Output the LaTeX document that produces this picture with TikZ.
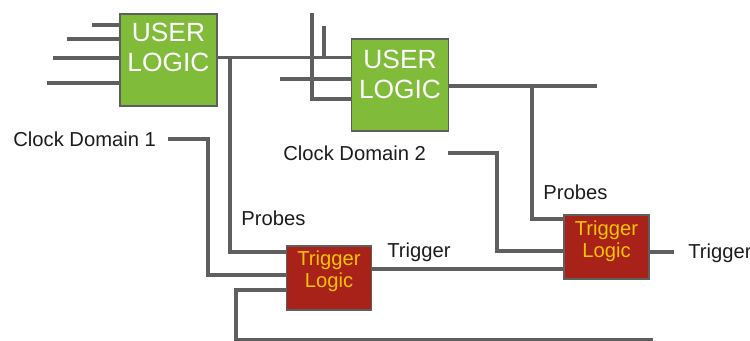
\documentclass[tikz,border=0pt]{standalone}
\usepackage{fontspec}
\setmainfont{Liberation Sans}
\usepackage{tikz}
\usetikzlibrary{positioning,calc}
\definecolor{wire}{HTML}{5F5F5F}
\definecolor{leaf}{HTML}{80BC3A}
\definecolor{brick}{HTML}{A8221A}
\definecolor{gold}{HTML}{F5C400}
\definecolor{ink}{HTML}{1C1C1C}

\begin{document}
\begin{tikzpicture}[x=0.02cm,y=-0.02cm]
    \tikzset{
      userbox/.style={draw=wire,line width=1pt,fill=leaf,minimum width=1.94cm,minimum height=1.84cm,inner sep=0pt},
      trigbox/.style={draw=wire,line width=1pt,fill=brick,minimum width=1.7cm,minimum height=1.28cm,inner sep=0pt},
      usertext/.style={text=white,align=center,inner sep=0pt,font=\fontsize{15}{17}\selectfont},
      trigtext/.style={text=gold,align=center,inner sep=0pt,font=\fontsize{11.5}{12.5}\selectfont},
      lbl/.style={text=ink,anchor=west,inner sep=0pt,font=\fontsize{11.5}{13}\selectfont},
      wireline/.style={draw=wire,line width=1.8pt}
    }
    \useasboundingbox (0,0) rectangle (750,341);
    \node[userbox] (ul1) at (168.5,60) {};
    \node[usertext] (ul1t) at (168.5,47) {USER\\LOGIC};
    \node[userbox] (ul2) at (400,85) {};
    \node[usertext] (ul2t) at (400,74) {USER\\LOGIC};
    \node[trigbox] (tl1) at (329,278) {};
    \node[trigtext] (tl1t) at (329,271) {Trigger\\Logic};
    \node[trigbox] (tl2) at (606.5,247) {};
    \node[trigtext] (tl2t) at (606.5,241) {Trigger\\Logic};
    \node[lbl] (cd1) at (13,139) {Clock Domain 1};
    \node[lbl] (cd2) at (283,153) {Clock Domain 2};
    \node[lbl] (pr1) at (241,218) {Probes};
    \node[lbl] (pr2) at (543,192) {Probes};
    \node[lbl] (tg1) at (387,252) {Trigger};
    \node[lbl] (tg2) at (688,253) {Trigger};
    \coordinate (in1) at (92,25);
    \coordinate (in2) at (67,39);
    \coordinate (in3) at (53,58);
    \coordinate (in4) at (47,83);
    \coordinate (in5) at (280,79);
    \coordinate (in6) at (312,13);
    \coordinate (in6k) at (312,99);
    \coordinate (in7) at (324,26);
    \coordinate (tap1) at (230,57.5);
    \coordinate (tap2) at (532,86);
    \coordinate (out2) at (597,86);
    \coordinate (cdk1) at (208,275);
    \coordinate (cdk2) at (497,251);
    \coordinate (pin1) at (0,252);
    \coordinate (pin2) at (0,290);
    \coordinate (pin4) at (0,219);
    \coordinate (trg) at (0,269);
    \coordinate (trgout) at (674,252);
    \coordinate (loopk) at (236,340);
    \coordinate (loopend) at (653,340);
    \foreach \p in {in1,in2,in3,in4}
      \draw[wireline] (\p) -- (\p -| ul1.west);
    \draw[wireline] (tap1 -| ul1.east) -- (tap1 -| ul2.west);
    \draw[wireline] (tap1) |- (tl1.west |- pin1);
    \draw[wireline] (in5) -- (in5 -| ul2.west);
    \draw[wireline] (in6) -- (in6k) -- (in6k -| ul2.west);
    \draw[wireline] (in7) -- (in7 |- tap1);
    \draw[wireline] (out2 -| ul2.east) -- (out2);
    \draw[wireline] (tap2) |- (tl2.west |- pin4);
    \draw[wireline] ([xshift=0.24cm]cd1.east) -| (cdk1) -- (cdk1 -| tl1.west);
    \draw[wireline] ([xshift=0.44cm]cd2.east) -| (cdk2) -- (cdk2 -| tl2.west);
    \draw[wireline] (tl1.east |- trg) -- (tl2.west |- trg);
    \draw[wireline] (tl2.east |- trgout) -- (trgout);
    \draw[wireline] (tl1.west |- pin2) -| (loopk) -- (loopend);
  \end{tikzpicture}
\end{document}
